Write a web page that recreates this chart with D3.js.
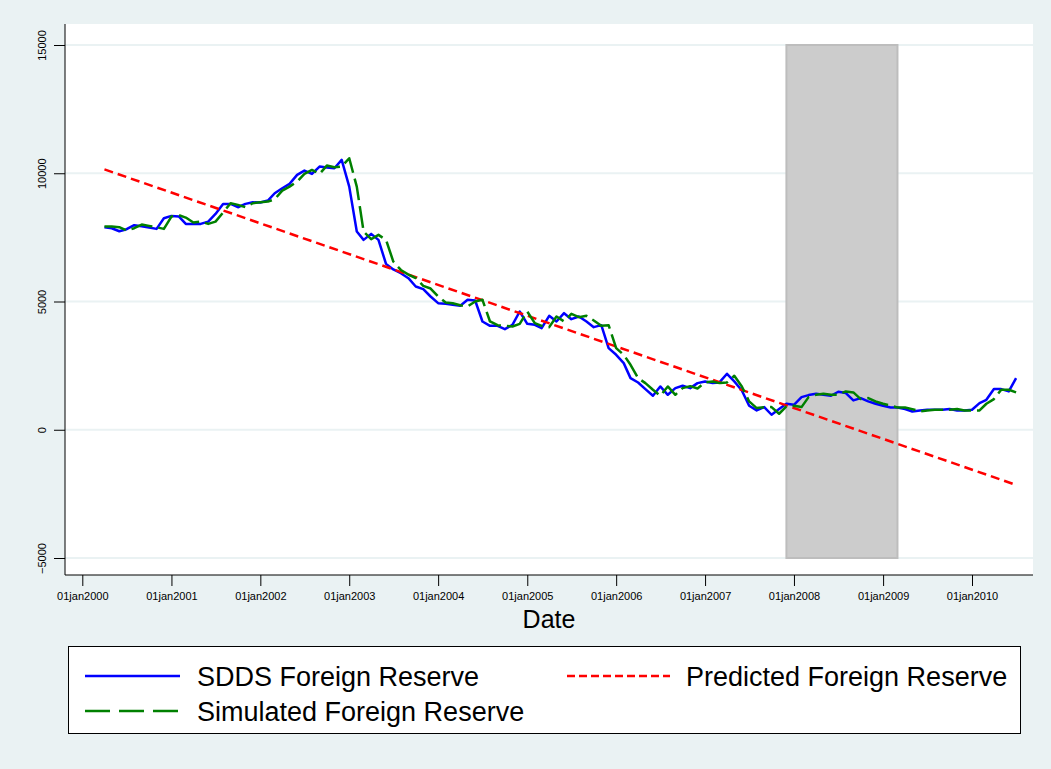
<!DOCTYPE html>
<html>
<head>
<meta charset="utf-8">
<script src="https://cdn.jsdelivr.net/npm/d3@7"></script>
<style>
  html, body { margin: 0; padding: 0; background: #eaf2f3; }
  svg { display: block; }
  text { font-family: "Liberation Sans", Arial, sans-serif; }
</style>
</head>
<body>
<svg id="chart" width="1051" height="769"></svg>
<script>
// ---- data ----
const startMonth = "2000-04-01";   // first monthly observation
const sddsReserve = [
  7896, 7857, 7740, 7818, 7974, 7935, 7883, 7831, 8246, 8337, 8311, 8025,
  8025, 8025, 8116, 8415, 8805, 8805, 8675, 8805, 8870, 8857, 8935, 9221,
  9416, 9584, 9935, 10104, 9974, 10260, 10221, 10195, 10520, 9480, 7727, 7402,
  7636, 7402, 6467, 6250, 6104, 5909, 5585, 5481, 5195, 4935, 4909, 4870,
  4831, 5065, 5039, 4221, 4052, 4052, 3922, 4091, 4610, 4130, 4091, 3961,
  4441, 4221, 4545, 4311, 4415, 4221, 4000, 4078, 3181, 2922, 2597, 2012,
  1843, 1584, 1324, 1688, 1363, 1623, 1714, 1623, 1818, 1884, 1819, 1845,
  2182, 1884, 1533, 935, 753, 883, 585, 805, 1013, 974, 1273, 1351,
  1403, 1364, 1325, 1481, 1429, 1143, 1234, 1104, 1013, 935, 870, 870,
  805, 714, 753, 779, 779, 779, 805, 753, 753, 779, 1039, 1169,
  1585, 1585, 1494, 2013
];
const simulatedReserve = [
  7922, 7922, 7896, 7766, 7857, 8000, 7948, 7896, 7831, 8311, 8363, 8272,
  8077, 8116, 8025, 8116, 8467, 8831, 8766, 8675, 8831, 8870, 8896, 8987,
  9325, 9480, 9675, 9974, 10130, 9974, 10299, 10234, 10260, 10585, 9480, 7727,
  7428, 7597, 7402, 6558, 6230, 6050, 5909, 5610, 5506, 5195, 4961, 4935,
  4857, 4805, 5000, 5065, 4221, 4078, 4052, 4026, 4130, 4610, 4156, 4052,
  4000, 4415, 4221, 4519, 4389, 4441, 4260, 4052, 4078, 3181, 2922, 2532,
  2012, 1818, 1558, 1324, 1688, 1363, 1623, 1700, 1610, 1845, 1884, 1819,
  1845, 2104, 1689, 1104, 844, 883, 883, 624, 909, 935, 883, 1273,
  1364, 1403, 1364, 1364, 1494, 1455, 1195, 1234, 1104, 1013, 935, 870,
  870, 805, 714, 753, 779, 779, 779, 805, 753, 753, 753, 1013,
  1195, 1559, 1559, 1455
];
const predictedDates = ["2000-04-01", "2010-07-01"];
const predictedReserve = [10150, -2150];
const shadeRange = ["2007-12-01", "2009-03-01"];
const xTickLabels = ["2000-01-01","2001-01-01","2002-01-01","2003-01-01","2004-01-01","2005-01-01",
                     "2006-01-01","2007-01-01","2008-01-01","2009-01-01","2010-01-01"];
const yTickValues = [-5000, 0, 5000, 10000, 15000];
const legendLabels = ["SDDS Foreign Reserve", "Predicted Foreign Reserve", "Simulated Foreign Reserve"];

// ---- setup ----
const parse = d3.utcParse("%Y-%m-%d");
const fmt = d => d3.utcFormat("%d%b%Y")(d).toLowerCase();
const start = parse(startMonth);
const monthDates = sddsReserve.map((_, i) => d3.utcMonth.offset(start, i));

const svg = d3.select("#chart");
const W = 1051, H = 769;
const plot = { left: 65, right: 1033, top: 24, bottom: 575 };

svg.append("rect").attr("width", W).attr("height", H).attr("fill", "#eaf2f3");
svg.append("rect").attr("x", plot.left).attr("y", plot.top)
  .attr("width", plot.right - plot.left).attr("height", plot.bottom - plot.top)
  .attr("fill", "#ffffff");

const x = d3.scaleUtc()
  .domain([parse("2000-01-01"), parse("2010-01-01")])
  .range([82.3, 972]);
const y = d3.scaleLinear().domain([-5000, 15000]).range([558, 45]);

// gridlines
svg.append("g").selectAll("line").data(yTickValues).join("line")
  .attr("x1", plot.left).attr("x2", plot.right)
  .attr("y1", d => y(d)).attr("y2", d => y(d))
  .attr("stroke", "#eaf2f3").attr("stroke-width", 2);

// shaded period
svg.append("rect")
  .attr("x", x(parse(shadeRange[0])))
  .attr("y", y(15000))
  .attr("width", x(parse(shadeRange[1])) - x(parse(shadeRange[0])))
  .attr("height", y(-5000) - y(15000))
  .attr("fill", "#cccccc").attr("stroke", "#bdbdbd").attr("stroke-width", 2);

// axes
const yAxis = d3.axisLeft(y).tickValues(yTickValues).tickSize(11).tickPadding(8).tickFormat(d3.format("d"));
const gy = svg.append("g").attr("transform", `translate(${plot.left},0)`).call(yAxis);
gy.select(".domain").attr("d", `M0,${plot.top}V${plot.bottom}`).attr("stroke", "#000");
gy.selectAll(".tick line").attr("stroke", "#000");
gy.selectAll(".tick text")
  .attr("transform", "rotate(-90)")
  .attr("x", 0).attr("y", -19)
  .attr("dy", "0")
  .attr("text-anchor", "middle")
  .attr("font-size", 11).attr("fill", "#000")
  .style("font-family", "'Liberation Sans', Arial, sans-serif");

const xAxis = d3.axisBottom(x).tickValues(xTickLabels.map(parse)).tickFormat(fmt).tickSize(11).tickPadding(6);
const gx = svg.append("g").attr("transform", `translate(0,${plot.bottom})`).call(xAxis);
gx.select(".domain").attr("d", `M${plot.left},0H${plot.right}`).attr("stroke", "#000");
gx.selectAll(".tick line").attr("stroke", "#000");
gx.selectAll(".tick text").attr("font-size", 11).attr("fill", "#000")
  .style("font-family", "'Liberation Sans', Arial, sans-serif");

svg.append("text").attr("x", 549).attr("y", 628).attr("text-anchor", "middle")
  .attr("font-size", 25).attr("fill", "#000").text("Date");

// lines
const line = d3.line().x(d => x(d[0])).y(d => y(d[1]));
const blueData = monthDates.map((d, i) => [d, sddsReserve[i]]);
const greenData = monthDates.map((d, i) => [d, simulatedReserve[i]]);
const redData = predictedDates.map((d, i) => [parse(d), predictedReserve[i]]);

svg.append("path").datum(blueData).attr("d", line)
  .attr("fill", "none").attr("stroke", "#0000ff").attr("stroke-width", 2.5).attr("stroke-linejoin", "round");
svg.append("path").datum(redData).attr("d", line)
  .attr("fill", "none").attr("stroke", "#ff0000").attr("stroke-width", 2.5).attr("stroke-dasharray", "9,5");
svg.append("path").datum(greenData).attr("d", line)
  .attr("fill", "none").attr("stroke", "#008000").attr("stroke-width", 2.5).attr("stroke-dasharray", "22,6").attr("stroke-linejoin", "round");

// legend
const lg = svg.append("g");
lg.append("rect").attr("x", 68.5).attr("y", 646.5).attr("width", 952).attr("height", 87)
  .attr("fill", "#ffffff").attr("stroke", "#000").attr("stroke-width", 1);
const legendItems = [
  { label: legendLabels[0], color: "#0000ff", dash: null, x0: 85, x1: 180, tx: 197, y: 676 },
  { label: legendLabels[1], color: "#ff0000", dash: "8,4", x0: 567, x1: 670, tx: 686, y: 676 },
  { label: legendLabels[2], color: "#008000", dash: "25,9", x0: 85, x1: 180, tx: 197, y: 711 }
];
legendItems.forEach(it => {
  lg.append("line").attr("x1", it.x0).attr("x2", it.x1).attr("y1", it.y).attr("y2", it.y)
    .attr("stroke", it.color).attr("stroke-width", 2.5).attr("stroke-dasharray", it.dash);
  lg.append("text").attr("x", it.tx).attr("y", it.y).attr("dy", "0.36em")
    .attr("font-size", 27).attr("fill", "#000").text(it.label);
});
</script>
</body>
</html>
